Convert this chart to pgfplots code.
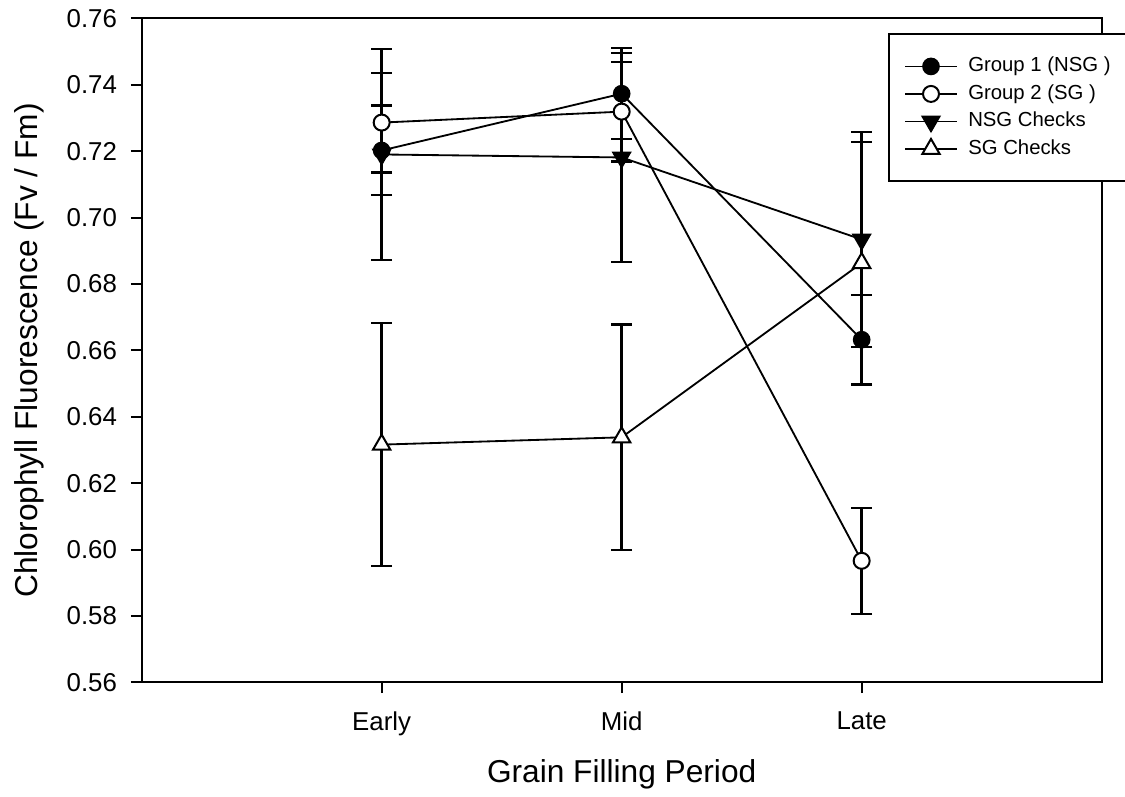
\documentclass[border=0pt]{standalone}
\usepackage{pgfplots}
\pgfplotsset{compat=1.18}
\usepackage{pgfplotstable}
\usepackage{fontspec}
\setmainfont{Liberation Sans}

\pgfplotstableread{
x y e
1 0.7202 0.0135
2 0.7373 0.0137
3 0.6632 0.0135
}\groupone
\pgfplotstableread{
x y e
1 0.7286 0.0150
2 0.7319 0.0150
3 0.5966 0.0160
}\grouptwo
\pgfplotstableread{
x y e
1 0.7190 0.0317
2 0.7181 0.0314
3 0.6934 0.0324
}\nsgchecks
\pgfplotstableread{
x y e
1 0.6316 0.0366
2 0.6338 0.0340
3 0.6863 0.0365
}\sgchecks

\begin{document}
\begin{tikzpicture}
\begin{axis}[
  at={(0,0)}, anchor=south west,
  width=576pt, height=398.4pt, scale only axis,
  xmin=0, xmax=4, ymin=0.56, ymax=0.76,
  xtick={1,2,3}, xticklabels={Early,Mid,Late},
  ytick={0.56,0.58,0.60,0.62,0.64,0.66,0.68,0.70,0.72,0.74,0.76},
  tick align=outside, tick pos=left,
  major tick length=6.5pt,
  axis line style={line width=1.2pt},
  tick style={line width=1.2pt, black},
  /pgf/number format/assume math mode=true,
  yticklabel style={/pgf/number format/.cd, fixed, fixed zerofill, precision=2},
  ticklabel style={font=\fontsize{15.5}{18}\selectfont},
  yticklabel shift=4.8pt,
  xticklabel shift=7.6pt,
  xlabel={Grain Filling Period},
  ylabel={Chlorophyll Fluorescence (Fv / Fm)},
  every axis x label/.style={at={(axis description cs:0.5,-0.138)}, anchor=center, font=\fontsize{19}{22}\selectfont},
  every axis y label/.style={at={(axis description cs:-0.1175,0.5)}, anchor=center, rotate=90, font=\fontsize{19}{22}\selectfont},
  legend cell align=left,
  legend style={at={(rel axis cs:0.7777,0.9774)}, anchor=north west,
    draw=black, line width=1.2pt, fill=white,
    inner xsep=9pt, inner ysep=11pt,
    font=\fontsize{12.2}{14}\selectfont,
    nodes={inner xsep=4.5pt, inner ysep=0pt, text height=11.5pt, text depth=5pt},
    /tikz/every odd column/.append style={column sep=1.8pt}},
  legend image code/.code={\draw[mark repeat=2,mark phase=2,#1] plot coordinates {(0pt,0pt) (15.5pt,0pt) (31pt,0pt)};},
  error bars/y dir=both, error bars/y explicit,
  error bars/error bar style={line width=1.4pt, black},
  error bars/error mark options={rotate=90, mark size=6.3pt, line width=1.4pt, black},
]
\addplot[black, line width=1.1pt, mark=*, mark size=4.8pt, mark options={solid, fill=black, draw=black, line width=1pt}]
  table[x=x, y=y, y error=e] {\groupone};
\addlegendentry{Group 1 (NSG )}
\addplot[black, line width=1.1pt, mark=*, mark size=4.8pt, mark options={solid, fill=white, draw=black, line width=1.2pt}]
  table[x=x, y=y, y error=e] {\grouptwo};
\addlegendentry{Group 2 (SG )}
\addplot[black, line width=1.1pt, mark=triangle*, mark size=6pt, mark options={solid, rotate=180, fill=black, draw=black, line width=1pt}]
  table[x=x, y=y, y error=e] {\nsgchecks};
\addlegendentry{NSG Checks}
\addplot[black, line width=1.1pt, mark=triangle*, mark size=6pt, mark options={solid, fill=white, draw=black, line width=1.2pt}]
  table[x=x, y=y, y error=e] {\sgchecks};
\addlegendentry{SG Checks}
\end{axis}
\pgfresetboundingbox
\path[use as bounding box] (-85pt,-68.2pt) rectangle (590pt,409.4pt);
\end{tikzpicture}
\end{document}
